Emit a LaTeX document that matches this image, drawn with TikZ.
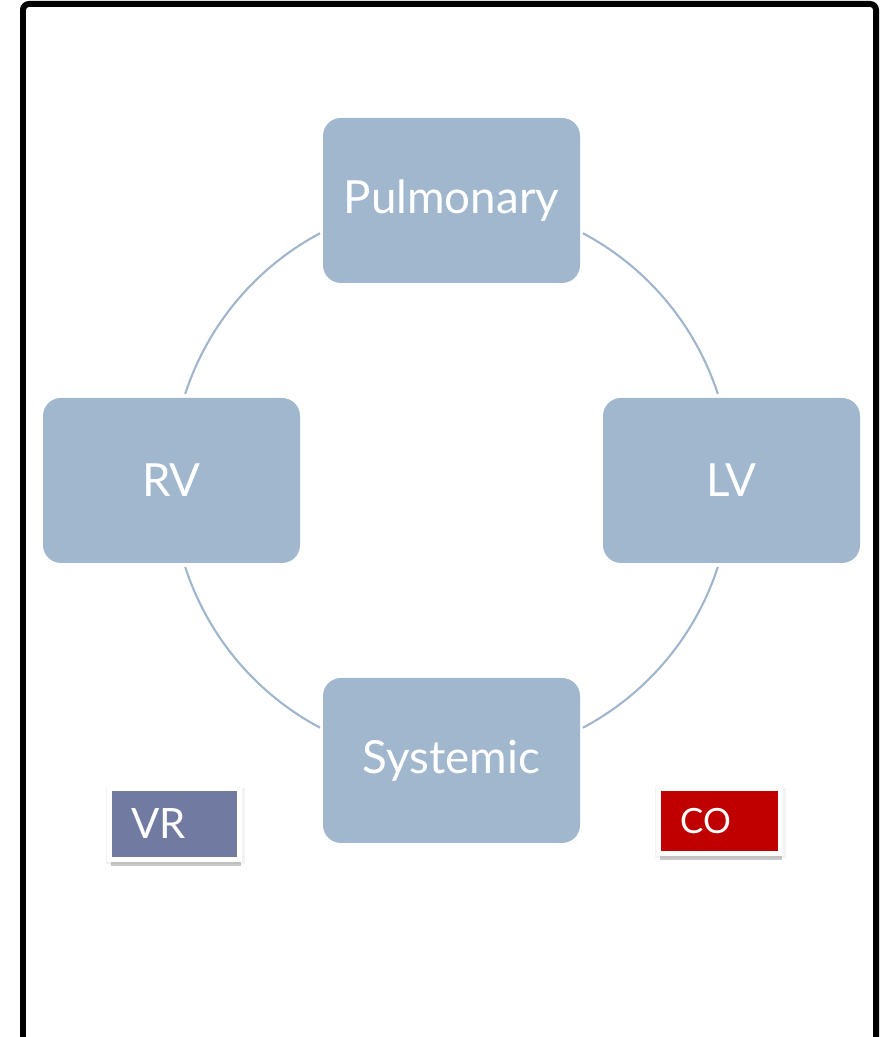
\documentclass[tikz,border=0pt]{standalone}
\usepackage{fontspec}
\setmainfont{Lato}
\usetikzlibrary{shadows}
\definecolor{organfill}{RGB}{161,183,205}
\definecolor{ringline}{RGB}{160,182,204}
\definecolor{vrfill}{RGB}{113,123,161}
\definecolor{cofill}{RGB}{192,0,0}
\newcommand{\organ}[4]{\node[organbox] (#1) at (#2,#3) {#4};}
\newcommand{\ringarc}[2]{\draw[ringline, line width=0.6pt] (hub) ++(#1:2.8) arc[start angle=#1, end angle=#2, radius=2.8];}
\tikzset{
  organbox/.style={fill=organfill, rounded corners=0.18cm, minimum width=2.57cm,
    minimum height=1.65cm, inner sep=0pt, text=white, font=\fontsize{13}{15}\selectfont},
  flowtag/.style={draw=white, line width=0.05cm, text=white, align=left, inner xsep=0.22cm,
    inner ysep=0pt,
    general shadow={fill=black!40, shadow xshift=0.01cm, shadow yshift=-0.02cm, shadow scale=1.07, opacity=0.12},
    drop shadow={fill=black!70, shadow xshift=0.015cm, shadow yshift=-0.07cm, opacity=0.3}}
}
\begin{document}
\begin{tikzpicture}
\path[use as bounding box, clip] (0,0) rectangle (8.81,10.37);
\draw[line width=0.06cm, rounded corners=0.06cm] (0.23,-0.5) rectangle (8.76,10.33);
% the four stations of the loop
\coordinate (hub) at (4.515,5.565);
\organ{pul}{4.515}{8.365}{Pulmonary}
\organ{rv}{1.715}{5.565}{RV}
\organ{lv}{7.315}{5.565}{LV}
\organ{sys}{4.515}{2.765}{Systemic}
\ringarc{118}{162}
\ringarc{198}{242}
\ringarc{298}{342}
\ringarc{18}{62}
% return and output tags
\node[flowtag, fill=vrfill, text width=0.86cm, minimum height=0.71cm,
  font=\fontsize{11.9}{14}\selectfont] (vr) at (1.742,2.133) {VR};
\node[flowtag, fill=cofill, text width=0.78cm, minimum height=0.65cm,
  font=\fontsize{9.9}{12}\selectfont] (co) at (7.192,2.161) {CO};
\end{tikzpicture}
\end{document}
